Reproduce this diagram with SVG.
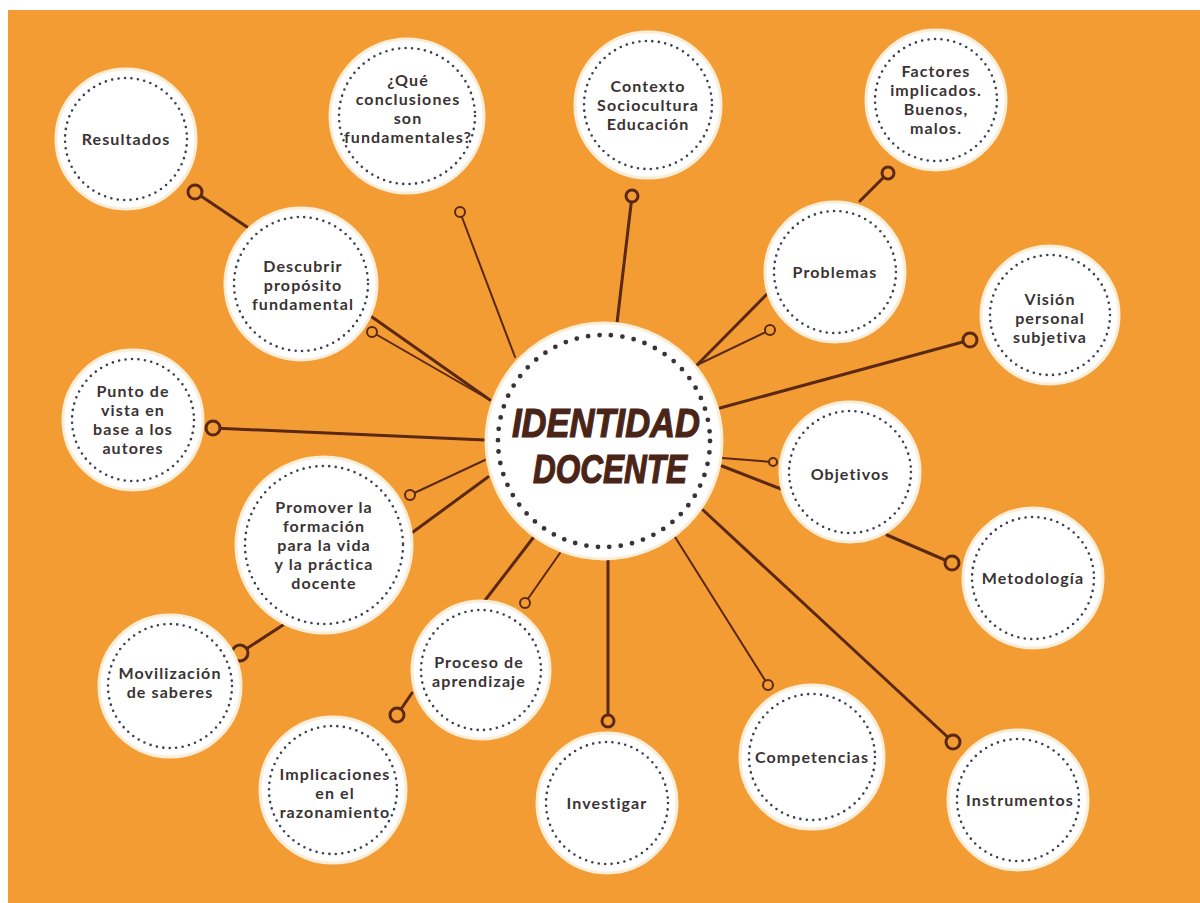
<svg xmlns="http://www.w3.org/2000/svg" width="1200" height="903" viewBox="0 0 1200 903">
<style>
.bg{fill:#F39C33}
.n{fill:#ffffff;stroke:#fbeed8;stroke-width:3}
.d{fill:none;stroke:#3b4150;stroke-width:2.6;stroke-linecap:round;stroke-dasharray:0 6.5}
.dc{fill:none;stroke:#3b3236;stroke-width:4.8;stroke-linecap:round;stroke-dasharray:0 11.5}
.t{font-family:"Lato","Open Sans",sans-serif;font-weight:bold;font-size:16px;letter-spacing:1.1px;fill:#3a3333;text-anchor:middle}
.ct{font-family:"Liberation Sans",Arial,sans-serif;font-weight:bold;font-style:italic;font-size:40px;fill:#4a2417;text-anchor:middle;stroke:#4a2417;stroke-width:1.2}
.l{stroke:#5a2814;stroke-width:3;fill:none;stroke-linecap:round}
.ls{stroke:#5a2814;stroke-width:2;fill:none;stroke-linecap:round}
.p{fill:#F39C33;stroke:#5a2814;stroke-width:3}
.ps{fill:#F39C33;stroke:#5a2814;stroke-width:2}
</style>
<rect x="0" y="0" width="1200" height="903" fill="#ffffff"/>
<rect class="bg" x="8" y="10" width="1192" height="893"/>
<g id="connectors">
<line class="l" x1="195" y1="192" x2="247" y2="227"/>
<line class="l" x1="372" y1="317" x2="490" y2="400"/>
<line class="ls" x1="372" y1="332" x2="490" y2="400"/>
<line class="ls" x1="460" y1="212" x2="515" y2="357"/>
<line class="l" x1="632" y1="196" x2="617" y2="323"/>
<line class="l" x1="888" y1="173" x2="860" y2="201"/>
<line class="l" x1="768" y1="293" x2="697" y2="365"/>
<line class="ls" x1="770" y1="330" x2="697" y2="365"/>
<line class="l" x1="970" y1="340" x2="720" y2="408"/>
<line class="ls" x1="773" y1="462" x2="722" y2="458"/>
<line class="l" x1="722" y1="466" x2="781" y2="489"/>
<line class="l" x1="887" y1="535" x2="952" y2="563"/>
<line class="l" x1="703" y1="510" x2="953" y2="742"/>
<line class="ls" x1="675" y1="537" x2="768" y2="685"/>
<line class="l" x1="608" y1="560" x2="608" y2="721"/>
<line class="ls" x1="560" y1="553" x2="525" y2="603"/>
<line class="l" x1="533" y1="538" x2="483" y2="603"/>
<line class="l" x1="412" y1="693" x2="397" y2="715"/>
<line class="l" x1="488" y1="477" x2="413" y2="532"/>
<line class="ls" x1="485" y1="460" x2="410" y2="495"/>
<line class="l" x1="283" y1="625" x2="240" y2="653"/>
<line class="l" x1="485" y1="440" x2="213" y2="428"/>
<circle class="p" cx="195" cy="192" r="7"/>
<circle class="ps" cx="372" cy="332" r="5"/>
<circle class="ps" cx="460" cy="212" r="5"/>
<circle class="p" cx="632" cy="196" r="6"/>
<circle class="p" cx="888" cy="173" r="6"/>
<circle class="ps" cx="770" cy="330" r="5"/>
<circle class="p" cx="970" cy="340" r="7"/>
<circle class="ps" cx="773" cy="462" r="4"/>
<circle class="p" cx="952" cy="563" r="7"/>
<circle class="p" cx="953" cy="742" r="7"/>
<circle class="ps" cx="768" cy="685" r="5"/>
<circle class="p" cx="608" cy="721" r="6"/>
<circle class="ps" cx="525" cy="603" r="5"/>
<circle class="p" cx="397" cy="715" r="7"/>
<circle class="ps" cx="410" cy="495" r="5"/>
<circle class="p" cx="240" cy="653" r="8"/>
<circle class="p" cx="213" cy="428" r="7"/>
</g>
<g id="center">
<circle class="n" cx="604" cy="441" r="118"/>
<circle class="dc" cx="604" cy="441" r="106"/>
<text class="ct" x="606" y="437" textLength="188" lengthAdjust="spacingAndGlyphs">IDENTIDAD</text>
<text class="ct" x="610" y="483" textLength="154" lengthAdjust="spacingAndGlyphs">DOCENTE</text>
</g>
<g id="resultados">
<circle class="n" cx="126" cy="139" r="70"/>
<circle class="d" cx="126" cy="139" r="61"/>
<text class="t" x="126" y="145">Resultados</text>
</g>
<g id="que">
<circle class="n" cx="407" cy="116" r="77"/>
<circle class="d" cx="407" cy="116" r="68"/>
<text class="t" x="408" y="86">¿Qué</text>
<text class="t" x="408" y="105">conclusiones</text>
<text class="t" x="408" y="124">son</text>
<text class="t" x="408" y="143">fundamentales?</text>
</g>
<g id="contexto">
<circle class="n" cx="648" cy="105" r="73"/>
<circle class="d" cx="648" cy="105" r="64"/>
<text class="t" x="648" y="92">Contexto</text>
<text class="t" x="648" y="111">Sociocultura</text>
<text class="t" x="648" y="130">Educación</text>
</g>
<g id="factores">
<circle class="n" cx="936" cy="100" r="70"/>
<circle class="d" cx="936" cy="100" r="61"/>
<text class="t" x="936" y="77">Factores</text>
<text class="t" x="936" y="96">implicados.</text>
<text class="t" x="936" y="115">Buenos,</text>
<text class="t" x="936" y="134">malos.</text>
</g>
<g id="problemas">
<circle class="n" cx="835" cy="272" r="70"/>
<circle class="d" cx="835" cy="272" r="61"/>
<text class="t" x="835" y="278">Problemas</text>
</g>
<g id="vision">
<circle class="n" cx="1050" cy="315" r="69"/>
<circle class="d" cx="1050" cy="315" r="60"/>
<text class="t" x="1050" y="305">Visión</text>
<text class="t" x="1050" y="324">personal</text>
<text class="t" x="1050" y="343">subjetiva</text>
</g>
<g id="punto">
<circle class="n" cx="133" cy="420" r="70"/>
<circle class="d" cx="133" cy="420" r="61"/>
<text class="t" x="133" y="397">Punto de</text>
<text class="t" x="133" y="416">vista en</text>
<text class="t" x="133" y="435">base a los</text>
<text class="t" x="133" y="454">autores</text>
</g>
<g id="descubrir">
<circle class="n" cx="301" cy="284" r="76"/>
<circle class="d" cx="301" cy="284" r="67"/>
<text class="t" x="303" y="272">Descubrir</text>
<text class="t" x="303" y="291">propósito</text>
<text class="t" x="303" y="310">fundamental</text>
</g>
<g id="promover">
<circle class="n" cx="324" cy="545" r="88"/>
<circle class="d" cx="324" cy="545" r="79"/>
<text class="t" x="324" y="513">Promover la</text>
<text class="t" x="324" y="532">formación</text>
<text class="t" x="324" y="551">para la vida</text>
<text class="t" x="324" y="570">y la práctica</text>
<text class="t" x="324" y="589">docente</text>
</g>
<g id="objetivos">
<circle class="n" cx="850" cy="472" r="70"/>
<circle class="d" cx="850" cy="472" r="61"/>
<text class="t" x="850" y="480">Objetivos</text>
</g>
<g id="metodologia">
<circle class="n" cx="1033" cy="578" r="70"/>
<circle class="d" cx="1033" cy="578" r="61"/>
<text class="t" x="1033" y="584">Metodología</text>
</g>
<g id="movilizacion">
<circle class="n" cx="170" cy="686" r="71"/>
<circle class="d" cx="170" cy="686" r="62"/>
<text class="t" x="170" y="679">Movilización</text>
<text class="t" x="170" y="698">de saberes</text>
</g>
<g id="proceso">
<circle class="n" cx="481" cy="670" r="69"/>
<circle class="d" cx="481" cy="670" r="60"/>
<text class="t" x="479" y="668">Proceso de</text>
<text class="t" x="479" y="687">aprendizaje</text>
</g>
<g id="implicaciones">
<circle class="n" cx="333" cy="790" r="73"/>
<circle class="d" cx="333" cy="790" r="64"/>
<text class="t" x="335" y="780">Implicaciones</text>
<text class="t" x="335" y="799">en el</text>
<text class="t" x="335" y="818">razonamiento</text>
</g>
<g id="investigar">
<circle class="n" cx="607" cy="803" r="70"/>
<circle class="d" cx="607" cy="803" r="61"/>
<text class="t" x="607" y="809">Investigar</text>
</g>
<g id="competencias">
<circle class="n" cx="812" cy="757" r="72"/>
<circle class="d" cx="812" cy="757" r="63"/>
<text class="t" x="812" y="763">Competencias</text>
</g>
<g id="instrumentos">
<circle class="n" cx="1018" cy="800" r="70"/>
<circle class="d" cx="1018" cy="800" r="61"/>
<text class="t" x="1020" y="806">Instrumentos</text>
</g>
</svg>
